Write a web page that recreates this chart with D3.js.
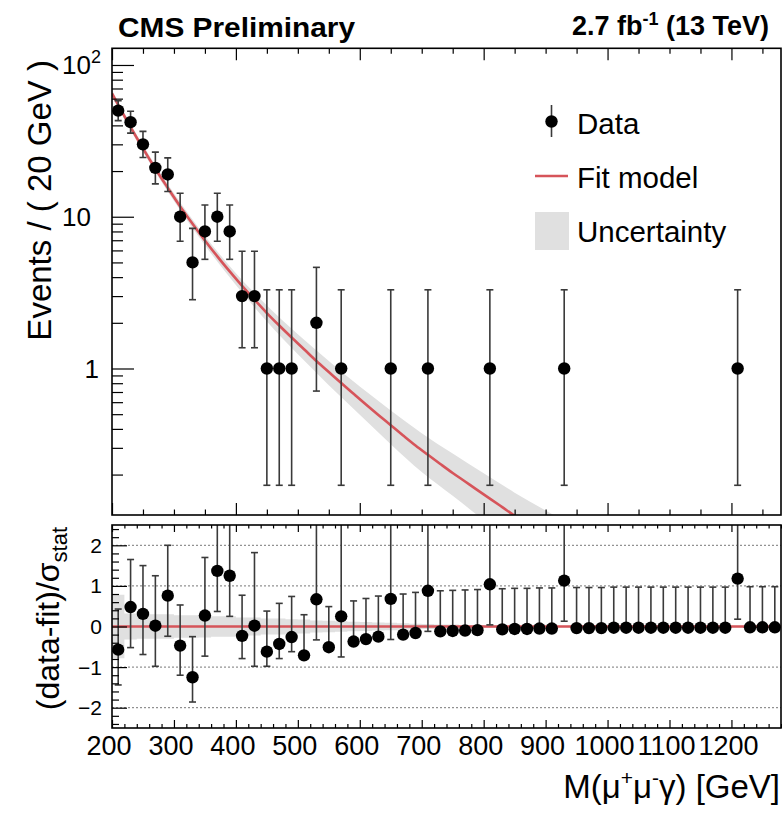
<!DOCTYPE html>
<html>
<head>
<meta charset="utf-8">
<script src="https://cdn.jsdelivr.net/npm/d3@7"></script>
<style>
  body { margin: 0; background: #fff; }
  svg { display: block; }
  text { font-family: "Liberation Sans", Arial, Helvetica, sans-serif; fill: #000; }
</style>
</head>
<body>
<svg id="chart" width="782" height="815"></svg>
<script>
// ---- Data ---------------------------------------------------------------
// 20 GeV bins, centres
const binCenters = [210,230,250,270,290,310,330,350,370,390,410,430,450,470,490,510,530,550,570,590,
  610,630,650,670,690,710,730,750,770,790,810,830,850,870,890,910,930,950,970,990,
  1010,1030,1050,1070,1090,1110,1130,1150,1170,1190,1210,1230,1250,1270];

// Observed events (non-empty bins) with Poisson 68% interval ends
const dataMass  = [210,230,250,270,290,310,330,350,370,390,410,430,450,470,490,530,570,650,710,810,930,1210];
const dataCount = [50,42,30,21,19,10,5,8,10,8,3,3,1,1,1,2,1,1,1,1,1,1];
const dataLow   = [42.96,35.55,24.56,16.46,14.68,6.89,2.84,5.24,6.89,5.24,1.37,1.37,0.17,0.17,0.17,0.71,0.17,0.17,0.17,0.17,0.17,0.17];
const dataHigh  = [58.11,49.53,36.53,26.65,24.43,14.27,8.38,11.94,14.27,11.94,5.92,5.92,3.30,3.30,3.30,4.64,3.30,3.30,3.30,3.30,3.30,3.30];

// Fit model (events / 20 GeV)
const fitMass  = [200,210,230,250,270,290,310,330,350,370,390,410,430,450,470,490,510,530,550,570,590,610,630,650,670,690,710,730,750,770,790,810,830,850,870];
const fitValue = [64.9,54.6,38.9,28.2,20.7,15.5,11.7,9.0,6.98,5.48,4.36,3.50,2.84,2.32,1.92,1.60,1.34,1.12,0.948,0.802,0.681,0.579,0.494,0.423,0.362,0.311,0.270,0.235,0.205,0.180,0.158,0.139,0.122,0.107,0.095];

// Fit uncertainty band
const bandMass = [200,250,300,350,400,450,500,550,600,650,700,750,800,850,900,950];
const bandLow  = [61.7,26.8,12.7,6.49,3.55,2.04,1.24,0.777,0.496,0.317,0.208,0.145,0.100,0.069,0.048,0.034];
const bandHigh = [68.1,29.6,14.3,7.47,4.25,2.60,1.68,1.119,0.760,0.529,0.375,0.275,0.204,0.152,0.116,0.090];

// Pulls (data-fit)/sigma_stat per bin, with error bar ends
const pullValue = [-0.57,0.48,0.31,0.02,0.76,-0.47,-1.25,0.27,1.37,1.25,-0.23,0.02,-0.62,-0.43,-0.26,-0.71,0.67,-0.51,0.25,-0.37,
  -0.31,-0.25,0.68,-0.20,-0.16,0.88,-0.12,-0.11,-0.10,-0.09,1.04,-0.07,-0.06,-0.06,-0.05,-0.05,1.13,-0.04,-0.04,-0.04,
  -0.03,-0.03,-0.03,-0.03,-0.03,-0.03,-0.03,-0.03,-0.03,-0.03,1.18,-0.02,-0.02,-0.02];
const pullLow = [-1.44,-0.52,-0.69,-0.98,-0.24,-1.20,-1.86,-0.73,0.37,0.25,-0.79,-0.98,-0.98,-0.79,-0.62,-0.71,-0.33,-0.51,-0.75,-0.37,
  -0.31,-0.25,-0.32,-0.20,-0.16,-0.12,-0.12,-0.11,-0.10,-0.09,0.04,-0.07,-0.06,-0.06,-0.05,-0.05,0.13,-0.04,-0.04,-0.04,
  -0.03,-0.03,-0.03,-0.03,-0.03,-0.03,-0.03,-0.03,-0.03,-0.03,0.18,-0.02,-0.02,-0.02];
const pullHigh = [0.43,1.65,1.50,1.25,2.00,0.53,-0.25,1.70,2.90,2.85,0.77,1.82,0.38,0.57,0.74,0.29,3.60,0.49,3.00,0.63,
  0.69,0.75,3.50,0.80,0.84,3.70,0.88,0.89,0.90,0.91,3.80,0.93,0.94,0.94,0.95,0.95,3.90,0.96,0.96,0.96,
  0.97,0.97,0.97,0.97,0.97,0.97,0.97,0.97,0.97,0.97,3.90,0.98,0.98,0.98];
// Fit uncertainty in units of sigma_stat (half width per bin)
const pullBand = [0.78,0.32,0.30,0.30,0.30,0.28,0.28,0.27,0.25,0.25,0.22,0.22,0.20,0.20,0.18,0.17,0.15,0.14,0.13,0.12,
  0.11,0.10,0.09,0.08,0.07,0.06,0.05,0.05,0.04,0.04,0.03,0.03,0.03,0.03,0.03,0.02,0.02,0.02,0.02,0.02,
  0.02,0.02,0.02,0.02,0.02,0.02,0.02,0.02,0.02,0.02,0.02,0.02,0.02,0.02];

const xTickLabels = ["200","300","400","500","600","700","800","900","1000","1100","1200"];
const logTickLabels = [{v:100, base:"10", sup:"2"}, {v:10, base:"10", sup:""}, {v:1, base:"1", sup:""}];
const pullTickLabels = ["2","1","0","\u22121","\u22122"];

// ---- Layout ---------------------------------------------------------------
const svg = d3.select("#chart");
const X0 = 112, X1 = 781;
const TOP0 = 48.3, TOP1 = 515, LOW0 = 525, LOW1 = 728;
const RED = "#d6545a", BAND = "#e0e0e0", BAR = "#3a3a3a";

const x = d3.scaleLinear().domain([200, 1280]).range([X0, X1]);
const yTop = d3.scaleLog().domain([0.1083, 128.8]).range([TOP1, TOP0]);
const yPull = d3.scaleLinear().domain([-2.5, 2.5]).range([LOW1, LOW0]);

svg.append("rect").attr("width", 782).attr("height", 815).attr("fill", "#fff");

const defs = svg.append("defs");
defs.append("clipPath").attr("id", "clipTop").append("rect")
  .attr("x", X0).attr("y", TOP0).attr("width", X1 - X0).attr("height", TOP1 - TOP0);
defs.append("clipPath").attr("id", "clipLow").append("rect")
  .attr("x", X0).attr("y", LOW0).attr("width", X1 - X0).attr("height", LOW1 - LOW0);

// ---- Upper panel ------------------------------------------------------------
const upper = svg.append("g").attr("clip-path", "url(#clipTop)");

const band = bandMass.map((m, i) => ({ m, lo: bandLow[i], hi: bandHigh[i] }));
upper.append("path")
  .attr("d", d3.area().x(d => x(d.m)).y0(d => yTop(d.lo)).y1(d => yTop(d.hi)).curve(d3.curveMonotoneX)(band))
  .attr("fill", BAND);

const fit = fitMass.map((m, i) => ({ m, v: fitValue[i] }));
upper.append("path")
  .attr("d", d3.line().x(d => x(d.m)).y(d => yTop(d.v)).curve(d3.curveMonotoneX)(fit))
  .attr("fill", "none").attr("stroke", RED).attr("stroke-width", 2.6);

const pts = dataMass.map((m, i) => ({ m, n: dataCount[i], lo: dataLow[i], hi: dataHigh[i] }));
const eb = upper.append("g").attr("stroke", BAR).attr("stroke-width", 1.6);
pts.forEach(d => {
  const cx = x(d.m);
  eb.append("line").attr("x1", cx).attr("x2", cx).attr("y1", yTop(d.lo)).attr("y2", yTop(d.hi));
  [d.lo, d.hi].forEach(v => eb.append("line").attr("x1", cx - 3.5).attr("x2", cx + 3.5).attr("y1", yTop(v)).attr("y2", yTop(v)));
});
upper.append("g").selectAll("circle").data(pts).join("circle")
  .attr("cx", d => x(d.m)).attr("cy", d => yTop(d.n)).attr("r", 6.2).attr("fill", "#000");

// ---- Lower panel ------------------------------------------------------------
const lower = svg.append("g").attr("clip-path", "url(#clipLow)");

[2, 1, -1, -2].forEach(v => lower.append("line")
  .attr("x1", X0).attr("x2", X1).attr("y1", yPull(v)).attr("y2", yPull(v))
  .attr("stroke", "#777").attr("stroke-width", 1).attr("stroke-dasharray", "2,2"));

const stepData = binCenters.map((m, i) => ({ e: m - 10, h: pullBand[i] }));
stepData.push({ e: 1280, h: pullBand[pullBand.length - 1] });
lower.append("path")
  .attr("d", d3.area().x(d => x(d.e)).y0(d => yPull(-d.h)).y1(d => yPull(d.h)).curve(d3.curveStepAfter)(stepData))
  .attr("fill", BAND);

lower.append("line").attr("x1", X0).attr("x2", X1).attr("y1", yPull(0)).attr("y2", yPull(0))
  .attr("stroke", RED).attr("stroke-width", 2.6);

const pulls = binCenters.map((m, i) => ({ m, v: pullValue[i], lo: pullLow[i], hi: pullHigh[i] }));
const pb = lower.append("g").attr("stroke", BAR).attr("stroke-width", 1.6);
pulls.forEach(d => {
  const cx = x(d.m);
  pb.append("line").attr("x1", cx).attr("x2", cx).attr("y1", yPull(d.lo)).attr("y2", yPull(d.hi));
  pb.append("line").attr("x1", cx - 3.5).attr("x2", cx + 3.5).attr("y1", yPull(d.hi)).attr("y2", yPull(d.hi));
  if (d.lo < d.v) pb.append("line").attr("x1", cx - 3.5).attr("x2", cx + 3.5).attr("y1", yPull(d.lo)).attr("y2", yPull(d.lo));
});
lower.append("g").selectAll("circle").data(pulls).join("circle")
  .attr("cx", d => x(d.m)).attr("cy", d => yPull(d.v)).attr("r", 6.2).attr("fill", "#000");

// ---- Axes / ticks -------------------------------------------------------------
function tickSet(axisFn, scale, values, size, tx, ty) {
  const g = svg.append("g").attr("transform", `translate(${tx},${ty})`)
    .call(axisFn(scale).tickValues(values).tickSize(size).tickFormat(""));
  g.select(".domain").remove();
  g.selectAll("line").attr("stroke", "#000").attr("stroke-width", 1.2);
}
const every = (a, b, s) => d3.range(a, b + 0.001, s);
const x200 = every(200, 1200, 200);
const x50 = every(200, 1250, 50).filter(v => v % 200 !== 0);
const x100 = every(200, 1200, 100);
const x20 = every(200, 1280, 20).filter(v => v % 100 !== 0);

// upper panel
tickSet(d3.axisBottom, x, x200, 12, 0, TOP0);
tickSet(d3.axisBottom, x, x50, 5.5, 0, TOP0);
tickSet(d3.axisTop, x, x200, 12, 0, TOP1);
tickSet(d3.axisTop, x, x50, 5.5, 0, TOP1);
const logMajor = [1, 10, 100];
const logMinor = [];
[0.1, 1, 10].forEach(dec => { for (let k = 2; k <= 9; k++) logMinor.push(+(k * dec).toFixed(3)); });
tickSet(d3.axisRight, yTop, logMajor, 22, X0, 0);
tickSet(d3.axisRight, yTop, logMinor.filter(v => v > 0.1083 && v < 128.8), 11, X0, 0);

// lower panel
tickSet(d3.axisBottom, x, x100, 7, 0, LOW0);
tickSet(d3.axisBottom, x, x20, 3.5, 0, LOW0);
tickSet(d3.axisTop, x, x100, 8, 0, LOW1);
tickSet(d3.axisTop, x, x20, 4, 0, LOW1);
tickSet(d3.axisRight, yPull, [-2, -1, 0, 1, 2], 15, X0, 0);
tickSet(d3.axisRight, yPull, every(-2.4, 2.4, 0.2).map(v => +v.toFixed(1)).filter(v => Math.abs(v - Math.round(v)) > 0.01), 7, X0, 0);

// frames
[[TOP0, TOP1], [LOW0, LOW1]].forEach(([a, b]) => svg.append("rect")
  .attr("x", X0).attr("y", a).attr("width", X1 - X0).attr("height", b - a)
  .attr("fill", "none").attr("stroke", "#000").attr("stroke-width", 1.6));

// ---- Tick labels ------------------------------------------------------------
logTickLabels.forEach(t => {
  const tx = svg.append("text").attr("x", t.v === 1 ? 99 : 91).attr("y", yTop(t.v) + 9.5)
    .attr("font-size", 26).attr("text-anchor", "end");
  tx.append("tspan").text(t.base);
  if (t.sup) {
    tx.attr("x", 101);
    tx.append("tspan").attr("font-size", 18).attr("dy", -11).text(t.sup);
  }
});
[2, 1, 0, -1, -2].forEach((v, i) => svg.append("text")
  .attr("x", 102).attr("y", yPull(v) + 7.5).attr("font-size", 21).attr("text-anchor", "end")
  .text(pullTickLabels[i]));
xTickLabels.forEach(s => svg.append("text")
  .attr("x", x(+s) - 3).attr("y", 755).attr("font-size", 27).attr("text-anchor", "middle").text(s));

// ---- Titles -----------------------------------------------------------------
svg.append("text").attr("x", 118).attr("y", 37).attr("font-size", 28).attr("font-weight", "bold")
  .attr("textLength", 237).attr("lengthAdjust", "spacingAndGlyphs")
  .text("CMS Preliminary");
const lumi = svg.append("text").attr("x", 769).attr("y", 35).attr("font-size", 27)
  .attr("font-weight", "bold").attr("text-anchor", "end");
lumi.append("tspan").text("2.7 fb");
lumi.append("tspan").attr("font-size", 18).attr("dy", -10).text("-1");
lumi.append("tspan").attr("dy", 10).text(" (13 TeV)");

svg.append("text").attr("transform", "translate(51,60) rotate(-90)")
  .attr("font-size", 33).attr("text-anchor", "end").text("Events / ( 20 GeV )");

const py = svg.append("text").attr("transform", "translate(59,527) rotate(-90)")
  .attr("font-size", 32).attr("text-anchor", "end");
py.append("tspan").text("(data-fit)/\u03c3");
py.append("tspan").attr("font-size", 22).attr("dy", 8).text("stat");

const mx = svg.append("text").attr("x", 780).attr("y", 798).attr("font-size", 33).attr("text-anchor", "end");
mx.append("tspan").text("M(\u03bc");
mx.append("tspan").attr("font-size", 21).attr("dy", -13).text("+");
mx.append("tspan").attr("dy", 13).text("\u03bc");
mx.append("tspan").attr("font-size", 21).attr("dy", -13).text("-");
mx.append("tspan").attr("dy", 13).text("\u03b3) [GeV]");

// ---- Legend -------------------------------------------------------------------
const lg = svg.append("g");
lg.append("line").attr("x1", 551.5).attr("x2", 551.5).attr("y1", 105).attr("y2", 137)
  .attr("stroke", BAR).attr("stroke-width", 1.6);
lg.append("circle").attr("cx", 551.5).attr("cy", 121.5).attr("r", 6.2).attr("fill", "#000");
lg.append("text").attr("x", 577).attr("y", 134).attr("font-size", 29.5).text("Data");
lg.append("line").attr("x1", 535).attr("x2", 568).attr("y1", 176).attr("y2", 176)
  .attr("stroke", RED).attr("stroke-width", 2.6);
lg.append("text").attr("x", 577).attr("y", 188).attr("font-size", 29.5).text("Fit model");
lg.append("rect").attr("x", 535).attr("y", 212).attr("width", 34).attr("height", 38).attr("fill", BAND);
lg.append("text").attr("x", 577).attr("y", 242).attr("font-size", 29.5).text("Uncertainty");
</script>
</body>
</html>
